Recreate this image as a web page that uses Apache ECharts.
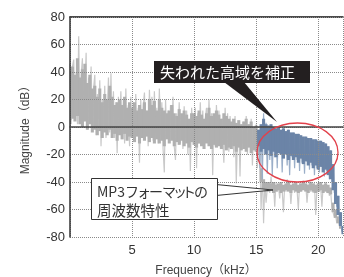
<!DOCTYPE html>
<html>
<head>
<meta charset="utf-8">
<script src="https://cdn.jsdelivr.net/npm/echarts@6/dist/echarts.min.js"></script>
<style>
  html, body { margin: 0; padding: 0; background: #fff; }
  #chart { width: 344px; height: 277px; }
</style>
</head>
<body>
<div id="chart"></div>
<script>
// spikes: samples 0.1 kHz apart; dense core: bins 0.2 kHz wide
const spikeStep = 0.1;
const binStep = 0.2;

// original signal (gray), from 0 kHz
const grayStart = 0;
const graySpikes = [
  46, 5, 44, 49, 8, 40, 2, 66, 10, 38,
  50, 4, 30, 54, -2, 36, 8, 44, 0, 28,
  38, -6, 24, 6, 34, -14, 20, 2, 30, -8,
  12, 36, -4, 39, 0, 26, -8, 18, -19, 22,
  4, 26, -6, 20, -12, 28, 0, 16, -14, 22,
  -4, 18, -10, 24, -2, 14, -26, 20, -8, 16,
  25, -6, 12, -14, 27, 2, 22, -10, 26, -4,
  14, -12, 28, -6, 18, -16, -33, 20, -8, 12,
  -10, 16, -4, 22, -14, -24, 10, -6, 18, -12,
  8, -16, 15, -8, 12, -20, 6, -32, 14, -4,
  -6, 14, -30, 10, -12, 18, -8, 12, -16, 6,
  14, -10, 20, -4, 10, -35, 8, -14, 16, -6,
  12, -12, 6, -8, -26, 14, -4, 10, -18, 8,
  -10, 6, -22, 8, -41, -6, 4, -36, 2, -12,
  4, -14, 8, -20, 2, -10, 6, -28, 0, -16,
  2, -30, -8, -22, -60, -30, -70, -40, -55, -44,
  -41, -48, -36, -46, -42, -58, -40, -47, -43, -52,
  -40, -46, -62, -42, -47, -38, -45, -41, -56, -44,
  -42, -48, -40, -46, -60, -41, -47, -43, -39, -46,
  -42, -55, -44, -40, -47, -43, -48, -41, -64, -45,
  -41, -47, -43, -58, -42, -46, -40, -48, -44, -50,
  -46, -58, -62, -66, -64, -70, -68, -72, -70, -74,
  -76
];
const grayHi = [
  40, 44, 38, 50, 36,  42, 46, 32, 38, 28,
  30, 22, 28, 18, 24,  20, 30, 22, 16, 18,
  20, 16, 22, 14, 18,  14, 18, 12, 16, 13,
  18, 12, 20, 16, 19,  12, 20, 14, 12, 10,
  12, 16, 10, 8, 13,   10, 12, 9, 6, 10,
  10, 8, 12, 9, 6,     10, 14, 8, 10, 12,
  9, 6, 10, 8, 6,      4, 6, 3, 5, 2,
  4, 6, 2, 4, 0,
  1, -2, -30, -38, -40,
  -40, -41, -40, -42, -41, -40, -42, -41, -40, -42,
  -41, -40, -42, -41, -40, -41, -42, -40, -41, -42,
  -41, -40, -42, -41, -42, -44,
  -55, -60, -65, -68, -72
];
const grayLo = [
  2, 6, 4, 8, 2,          0, 4, -2, 2, -4,
  -2, -6, -3, -8, -4,     -6, -2, -8, -5, -10,
  -6, -9, -5, -10, -7,    -8, -11, -7, -12, -8,
  -10, -7, -11, -8, -12,  -9, -12, -10, -14, -9,
  -12, -10, -14, -11, -13, -10, -14, -12, -15, -11,
  -13, -15, -12, -14, -16, -12, -14, -16, -13, -15,
  -14, -16, -13, -17, -15, -16, -14, -18, -15, -17,
  -16, -18, -15, -19, -17,
  -18, -20, -40, -46, -47,
  -47, -46, -48, -47, -46, -48, -47, -46, -47, -48,
  -46, -47, -48, -47, -46, -47, -48, -46, -47, -48,
  -47, -46, -48, -47, -48, -49,
  -62, -66, -70, -74, -76
];

// corrected high band (blue), from 15.2 kHz
const blueStart = 15.2;
const blueSpikes = [
  -5,
  -30, 2, -38, 10, -20, 3, -34,
  1, -24, 2, -36, 0, -22, -1, -30, 0, -18,
  -2, -33, -1, -20, -3, -28, -2, -35, -4, -22,
  -4, -30, -5, -24, -5, -32, -6, -26, -7, -34,
  -7, -25, -8, -31, -8, -28, -9, -35, -9, -30,
  -10, -33, -10, -29, -11, -36, -12, -32, -14, -38,
  -17, -40, -27, -48, -40, -58, -50, -66, -62, -76,
  -72
];
const blueHi = [
  -2, 2, 6, 2, 1, 2, 0, -1, 0, -2,
  -1, -3, -2, -4, -4, -5, -5, -6, -7, -7,
  -8, -8, -9, -9, -10, -10, -11, -12, -14, -17,
  -27, -40, -50, -62, -72
];
const blueLo = [
  -14, -18, -16, -20, -17, -21, -18, -22, -19, -20,
  -23, -20, -24, -21, -24, -22, -26, -23, -27, -25,
  -28, -26, -30, -28, -31, -29, -33, -31, -35, -38,
  -46, -56, -64, -72, -78
];

const xTicks = [5, 10, 15, 20];

function spikePairs(start, vals) {
  return vals.map((v, i) => [+(start + i * spikeStep).toFixed(2), v]);
}
function binTriples(start, lo, hi) {
  return lo.map((v, i) => [+(start + i * binStep).toFixed(2), v, hi[i]]);
}

function bandSeries(data, color, z) {
  return {
    type: 'custom',
    data: data,
    clip: true,
    z: z,
    renderItem: function (params, api) {
      const f = api.value(0);
      const a = api.coord([f - binStep / 2, api.value(2)]);
      const b = api.coord([f + binStep / 2, api.value(1)]);
      return {
        type: 'rect',
        shape: { x: a[0] - 0.3, y: a[1], width: b[0] - a[0] + 0.6, height: b[1] - a[1] },
        style: { fill: color }
      };
    }
  };
}

const font = '"Liberation Sans", "Noto Sans CJK JP", sans-serif';
const jpFont = '"Noto Sans CJK JP", sans-serif';

// first callout line, set piece by piece to keep the kana tight
const mp3Pieces = [['MP3', 97], ['フ', 125], ['ォ', 137], ['ー', 149], ['マ', 162], ['ッ', 173], ['ト', 182], ['の', 194]];

const chart = echarts.init(document.getElementById('chart'));

const option = {
  animation: false,
  grid: { left: 70, top: 17, right: 1, bottom: 40 },
  xAxis: [
    {
      type: 'value',
      min: 0,
      max: 22,
      interval: 5,
      z: 5,
      axisLine: { lineStyle: { color: '#444', width: 1.5 } },
      axisTick: { show: false },
      axisLabel: {
        margin: 7,
        fontSize: 13,
        color: '#333',
        fontFamily: font,
        showMinLabel: false,
        showMaxLabel: false,
        formatter: v => (xTicks.indexOf(v) >= 0 ? String(v) : '')
      },
      splitLine: { lineStyle: { type: 'dotted', color: '#8a8a8a', width: 1 } }
    },
    {
      type: 'value',
      position: 'top',
      min: 0,
      max: 22,
      axisLine: { show: true, lineStyle: { color: '#111', width: 1.5 } },
      axisTick: { show: false },
      axisLabel: { show: false },
      splitLine: { show: false }
    }
  ],
  yAxis: {
    type: 'value',
    min: -80,
    max: 80,
    interval: 20,
    z: 5,
    axisLine: { show: true, lineStyle: { color: '#333', width: 1.5 } },
    axisTick: { show: false },
    axisLabel: { margin: 5, fontSize: 13, color: '#333', fontFamily: font },
    splitLine: { lineStyle: { type: 'dotted', color: '#8a8a8a', width: 1 } }
  },
  series: [
    {
      type: 'line',
      data: spikePairs(grayStart, graySpikes),
      symbol: 'none',
      lineStyle: { color: '#c9c9c9', width: 1.2 },
      z: 1
    },
    bandSeries(binTriples(grayStart, grayLo, grayHi), '#b0b0b0', 2),
    {
      type: 'line',
      data: spikePairs(blueStart, blueSpikes),
      symbol: 'none',
      lineStyle: { color: '#9aaec8', width: 1.2 },
      z: 3
    },
    bandSeries(binTriples(blueStart, blueLo, blueHi), '#6b84a7', 4)
  ],
  graphic: [
    // axis titles
    {
      type: 'text', x: 206, y: 271, z: 10,
      style: { text: 'Frequency（kHz）', font: '12px ' + font, fill: '#444', align: 'center', verticalAlign: 'middle' }
    },
    {
      type: 'text', x: 26, y: 127, rotation: Math.PI / 2, z: 10,
      style: { text: 'Magnitude（dB）', font: '12px ' + font, fill: '#444', align: 'center', verticalAlign: 'middle' }
    },
    // red ellipse around the restored band
    {
      type: 'ellipse', z: 20,
      shape: { cx: 297.5, cy: 152.5, rx: 40.5, ry: 29.5 },
      style: { fill: 'none', stroke: '#e2414b', lineWidth: 1.3 }
    },
    // black callout
    {
      type: 'polygon', z: 21,
      shape: { points: [[224, 82], [244, 82], [277, 122]] },
      style: { fill: '#231f20' }
    },
    {
      type: 'rect', z: 21,
      shape: { x: 154, y: 61, width: 156, height: 22 },
      style: { fill: '#231f20' }
    },
    {
      type: 'text', x: 160, y: 72, z: 22,
      style: { text: '失われた高域を補正', font: '15px ' + jpFont, fill: '#fff', verticalAlign: 'middle' }
    },
    // white callout
    {
      type: 'polygon', z: 21,
      shape: { points: [[216, 184.5], [273, 190], [216, 195.5]] },
      style: { fill: '#fff', stroke: '#333', lineWidth: 1 }
    },
    {
      type: 'rect', z: 22,
      shape: { x: 91.5, y: 178.5, width: 126, height: 41 },
      style: { fill: '#fff', stroke: '#333', lineWidth: 1 }
    }
  ].concat(mp3Pieces.map(p => ({
    type: 'text', x: p[1], y: 192, z: 23,
    style: { text: p[0], font: '14px ' + jpFont, fill: '#333', verticalAlign: 'middle' }
  }))).concat([
    {
      type: 'text', x: 97, y: 210, z: 23,
      style: { text: '周波数特性', font: '14.5px ' + jpFont, fill: '#333', verticalAlign: 'middle' }
    }
  ])
};

chart.setOption(option);
</script>
</body>
</html>
